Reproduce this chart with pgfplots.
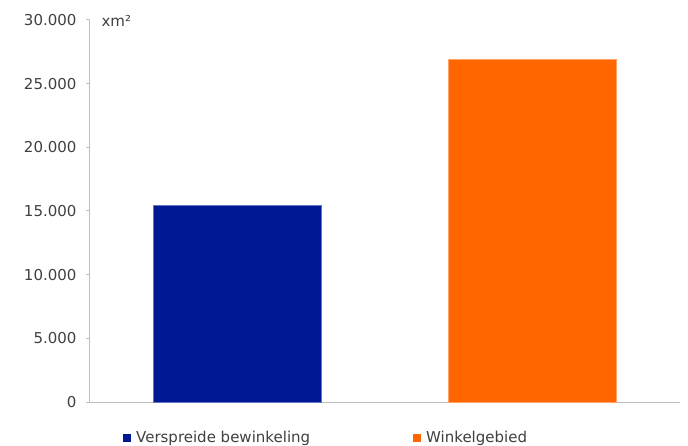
\documentclass[border=0pt]{standalone}
\usepackage{pgfplots}
\pgfplotsset{compat=1.18}
\usepackage{fontspec}
\setmainfont{DejaVu Sans}
\definecolor{barblue}{RGB}{0,24,148}
\definecolor{barorange}{RGB}{255,102,0}
\definecolor{axgray}{RGB}{190,190,190}
\definecolor{txtgray}{RGB}{64,64,64}
\begin{document}
\begin{tikzpicture}
\begin{axis}[
  scale only axis,
  width=590bp, height=382bp,
  xmin=-0.5, xmax=1.5,
  ymin=0, ymax=30000,
  ytick={0,5000,10000,15000,20000,25000,30000},
  yticklabel style={/pgf/number format/.cd, fixed, use comma, 1000 sep={.}, assume math mode=true},
  scaled y ticks=false,
  xtick=\empty,
  axis x line*=bottom,
  axis y line*=left,
  axis line style={axgray, line width=1bp, -},
  y axis line style={axgray},
  ytick style={axgray, line width=1bp},
  tick align=outside,
  major tick length=4bp,
  ticklabel style={font=\fontsize{15bp}{18bp}\selectfont, text=txtgray},
  yticklabel shift=6bp,
  ybar, bar width=168bp, bar shift=0pt,
  clip=false,
  legend style={draw=none, at={(rel axis cs:0,0)}, anchor=north west, xshift=30bp, yshift=-25bp,
    font=\fontsize{15bp}{18bp}\selectfont, text=txtgray, legend columns=2,
    /tikz/every even column/.append style={column sep=101bp}},
  legend image code/.code={\fill[#1, draw=none] (0bp,-4bp) rectangle (8bp,4bp); \path[draw=none, fill=none] (0bp,0bp) rectangle (11bp,0.1bp);},
]
\addplot[fill=barblue, draw=barblue!60] coordinates {(0,15450)};
\addlegendentry{Verspreide bewinkeling}
\addplot[fill=barorange, draw=barorange!60] coordinates {(1,26900)};
\addlegendentry{Winkelgebied}
\node[anchor=base west, font=\fontsize{15bp}{18bp}\selectfont, text=txtgray] at ([xshift=8bp,yshift=-7bp]rel axis cs:0,1) {xm²};
\coordinate (bl) at (rel axis cs:0,0);
\coordinate (tr) at (rel axis cs:1,1);
\end{axis}
\pgfresetboundingbox
\path[use as bounding box] ([xshift=-90bp,yshift=-44bp]bl) rectangle ([xshift=8bp,yshift=20bp]tr);
\end{tikzpicture}
\end{document}
